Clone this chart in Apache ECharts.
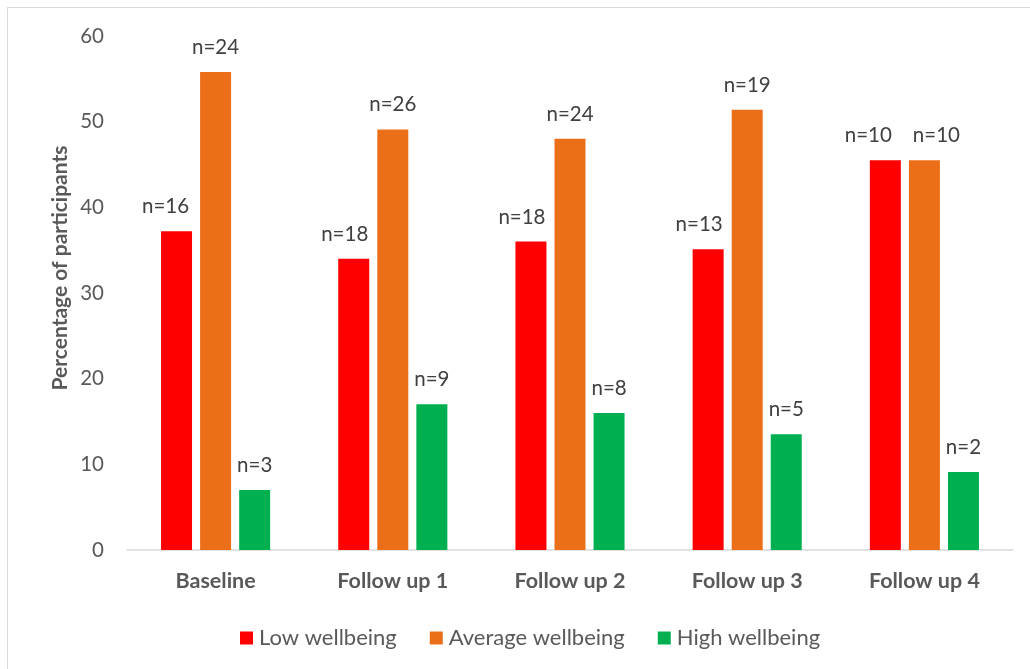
<!DOCTYPE html>
<html>
<head>
<meta charset="utf-8">
<script src="https://cdn.jsdelivr.net/npm/echarts@6/dist/echarts.min.js"></script>
<style>
  html, body { margin: 0; padding: 0; background: #fff; }
  #chart { width: 1030px; height: 669px; }
</style>
</head>
<body>
<div id="chart"></div>
<script>
// Time points
const categories = ['Baseline', 'Follow up 1', 'Follow up 2', 'Follow up 3', 'Follow up 4'];

// Percentage of participants in each wellbeing group
const lowPct = [37.2, 34.0, 36.0, 35.1, 45.5];
const avgPct = [55.8, 49.1, 48.0, 51.4, 45.5];
const highPct = [7.0, 17.0, 16.0, 13.5, 9.1];

// Participant counts shown above the bars
const lowN = [16, 18, 18, 13, 10];
const avgN = [24, 26, 24, 19, 10];
const highN = [3, 9, 8, 5, 2];

const yTicks = [0, 10, 20, 30, 40, 50, 60];

const FONT = 'Lato, "Open Sans", sans-serif';
const TEXT = '#595959';

// Horizontal nudges for the count labels so neighbouring labels don't collide
const lowLabelShift = [-11, -9, -9, -9, -17];
const avgLabelShift = [0, 0, 0, 0, 12];
const highLabelShift = [0, 0, 0, 0, 0];

function barSeries(name, values, counts, shifts, color) {
  return {
    name: name,
    type: 'bar',
    barWidth: 31,
    barGap: '26%',
    data: values.map((v, i) => ({
      value: v,
      label: { offset: [shifts[i], 0] }
    })),
    itemStyle: { color: color },
    label: {
      show: true,
      position: 'top',
      distance: 14,
      color: '#404040',
      fontFamily: FONT,
      fontSize: 20.5,
      formatter: p => 'n=' + counts[p.dataIndex]
    }
  };
}

const chart = echarts.init(document.getElementById('chart'));
chart.setOption({
  animation: false,
  backgroundColor: '#fff',
  textStyle: { fontFamily: FONT },
  grid: { left: 127, right: 17, top: 36, bottom: 119 },
  legend: {
    left: 235,
    top: 622,
    itemWidth: 13,
    itemHeight: 13,
    itemGap: 33,
    icon: 'rect',
    textStyle: { color: TEXT, fontSize: 22, fontFamily: FONT, padding: [0, 0, 0, 1] },
    data: ['Low wellbeing', 'Average wellbeing', 'High wellbeing']
  },
  xAxis: {
    type: 'category',
    data: categories,
    axisLine: { lineStyle: { color: '#d9d9d9', width: 1.5 } },
    axisTick: { show: false },
    axisLabel: { color: TEXT, fontSize: 21.5, fontWeight: 'bold', fontFamily: FONT, margin: 20 }
  },
  yAxis: {
    type: 'value',
    min: yTicks[0],
    max: yTicks[yTicks.length - 1],
    interval: 10,
    splitLine: { show: false },
    axisLine: { show: false },
    axisTick: { show: false },
    axisLabel: { color: TEXT, fontSize: 20.5, fontFamily: FONT, margin: 23 }
  },
  graphic: [
    {
      type: 'line',
      shape: { x1: 7, y1: 7.5, x2: 1030, y2: 7.5 },
      style: { stroke: '#d9d9d9', lineWidth: 1 }
    },
    {
      type: 'line',
      shape: { x1: 7.5, y1: 7, x2: 7.5, y2: 669 },
      style: { stroke: '#d9d9d9', lineWidth: 1 }
    },
    {
      type: 'text',
      x: 60,
      y: 268,
      rotation: Math.PI / 2,
      style: {
        text: 'Percentage of participants',
        fill: TEXT,
        font: 'bold 21px ' + FONT,
        textAlign: 'center',
        textVerticalAlign: 'middle'
      }
    }
  ],
  series: [
    barSeries('Low wellbeing', lowPct, lowN, lowLabelShift, '#ff0000'),
    barSeries('Average wellbeing', avgPct, avgN, avgLabelShift, '#eb6e19'),
    barSeries('High wellbeing', highPct, highN, highLabelShift, '#00b050')
  ]
});
</script>
</body>
</html>
